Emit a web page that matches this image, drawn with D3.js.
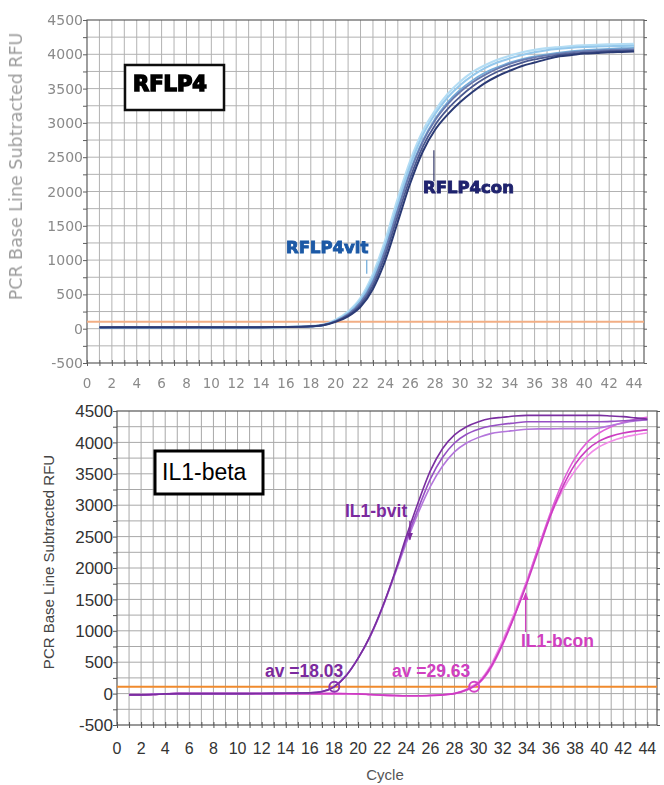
<!DOCTYPE html>
<html>
<head>
<meta charset="utf-8">
<title>RFLP4 and IL1-beta amplification</title>
<script src="https://cdn.jsdelivr.net/npm/d3@7"></script>
<style>
  body { margin: 0; background: #fff; }
</style>
</head>
<body>
<div id="chart"></div>
<script>
// ---- data ----
var cycles = [1,2,3,4,5,6,7,8,9,10,11,12,13,14,15,16,17,18,19,20,21,22,
              23,24,25,26,27,28,29,30,31,32,33,34,35,36,37,38,39,40,41,42,43,44];
var xTickLabels = [0,2,4,6,8,10,12,14,16,18,20,22,24,26,28,30,32,34,36,38,40,42,44];
var yTickLabels = [-500,0,500,1000,1500,2000,2500,3000,3500,4000,4500];

// top panel: RFLP4 (light = vit, dark = con)
var rflpVit1 = [15,18,20,20,18,17,18,20,20,19,18,18,20,22,22,25,30,38,60,130,250,450,800,1300,1900,2450,2880,3180,3420,3600,3740,3840,3920,3980,4030,4065,4090,4105,4120,4130,4138,4144,4148,4152];
var rflpVit2 = [12,15,18,18,17,16,17,18,19,18,17,18,19,20,21,24,28,35,55,120,230,420,750,1230,1820,2380,2820,3130,3370,3550,3690,3800,3880,3940,3990,4030,4060,4080,4095,4105,4112,4118,4122,4126];
var rflpVit3 = [10,12,15,16,15,15,16,17,18,17,16,17,18,19,20,22,26,32,50,110,210,390,700,1160,1740,2300,2740,3060,3300,3480,3620,3730,3810,3880,3930,3970,4000,4025,4045,4060,4070,4080,4088,4095];
var rflpCon1 = [20,22,22,21,20,20,21,22,22,21,20,20,21,22,23,25,28,34,50,100,180,320,580,1000,1560,2120,2580,2900,3120,3300,3450,3580,3680,3760,3830,3880,3930,3970,3990,4010,4020,4030,4035,4040];
var rflpCon2 = [18,20,20,20,19,19,20,21,21,20,19,19,20,21,22,24,27,33,52,105,195,350,630,1080,1650,2200,2650,2970,3200,3380,3530,3650,3745,3820,3880,3925,3960,3990,4010,4025,4035,4045,4050,4055];
var rflpCon3 = [16,18,19,19,18,18,19,20,20,19,18,18,19,20,21,23,27,34,55,112,210,380,680,1150,1730,2280,2720,3040,3270,3450,3590,3700,3790,3860,3915,3955,3985,4010,4030,4045,4055,4062,4068,4072];
var rflpThreshold = 100;

// bottom panel: IL1-beta
var ilVit1 = [-20,-20,-15,-5,0,0,0,0,0,0,0,2,3,5,8,12,30,105,280,560,920,1370,1900,2500,3050,3550,3900,4120,4250,4330,4380,4400,4420,4430,4430,4430,4430,4430,4430,4430,4420,4410,4390,4370];
var ilVit2 = [-18,-18,-12,-4,0,0,0,0,0,0,1,2,3,5,8,13,32,110,285,560,910,1360,1890,2450,2950,3420,3760,3990,4130,4210,4260,4290,4310,4330,4330,4330,4330,4330,4330,4330,4335,4345,4355,4360];
var ilVit3 = [-15,-15,-10,-3,0,0,0,0,0,0,1,2,4,6,9,14,34,112,290,565,905,1350,1870,2400,2880,3300,3620,3850,3990,4080,4140,4170,4190,4210,4215,4215,4220,4220,4220,4230,4270,4310,4340,4360];
var ilCon1 = [-20,-20,-15,-5,0,0,0,0,0,0,0,0,0,0,0,0,0,0,-2,-5,-15,-25,-30,-35,-35,-30,-20,0,60,170,420,800,1250,1750,2300,2850,3300,3650,3880,4020,4100,4150,4180,4200];
var ilCon2 = [-18,-18,-12,-4,0,0,0,0,0,0,0,0,0,0,0,0,0,0,-2,-6,-16,-26,-32,-36,-36,-30,-18,5,70,190,450,850,1300,1800,2350,2850,3250,3550,3780,3930,4020,4080,4120,4150];
var ilCon3 = [-15,-15,-10,-3,0,0,0,0,0,0,0,0,0,0,0,0,0,0,-1,-4,-14,-24,-30,-34,-34,-28,-20,0,55,160,400,780,1250,1780,2350,2900,3380,3750,4000,4150,4250,4320,4370,4400];
var ilThreshold = 110;
var ilCt = [18.03, 29.63];

// ---- drawing ----
var W = 664, H = 785;
var svg = d3.select("#chart").append("svg")
    .attr("width", W).attr("height", H)
    .style("font-family", "'Liberation Sans', Arial, sans-serif");

var defs = svg.append("defs");
defs.append("filter").attr("id", "soft")
    .attr("x", "-5%").attr("y", "-5%").attr("width", "110%").attr("height", "110%")
  .append("feGaussianBlur").attr("stdDeviation", 0.6);

function arrowMarker(id, color) {
  defs.append("marker").attr("id", id)
      .attr("viewBox", "0 0 10 10").attr("refX", 9).attr("refY", 5)
      .attr("markerWidth", 6).attr("markerHeight", 6).attr("orient", "auto")
    .append("path").attr("d", "M0,1 L10,5 L0,9 Z").attr("fill", color);
}
arrowMarker("arrVit", "#7b2a9e");
arrowMarker("arrCon", "#d040c0");

// one panel: grid, border, ticks, labels
function panel(g, box, st) {
  var x = d3.scaleLinear().domain([0, 44.8]).range([box.left, box.right]);
  var y = d3.scaleLinear().domain([-500, 4500]).range([box.bottom, box.top]);

  var grid = g.append("g");
  grid.selectAll("line.v").data(d3.range(1, 45)).enter().append("line")
      .attr("x1", d => x(d)).attr("x2", d => x(d))
      .attr("y1", box.top).attr("y2", box.bottom)
      .attr("stroke", st.grid).attr("stroke-width", 1);
  grid.selectAll("line.h").data(d3.range(-250, 4500, 250)).enter().append("line")
      .attr("y1", d => y(d)).attr("y2", d => y(d))
      .attr("x1", box.left).attr("x2", box.right)
      .attr("stroke", st.grid).attr("stroke-width", 1);

  g.append("rect")
      .attr("x", box.left).attr("y", box.top)
      .attr("width", box.right - box.left).attr("height", box.bottom - box.top)
      .attr("fill", "none").attr("stroke", st.border).attr("stroke-width", 1.2);

  // small ticks on left, right and bottom
  var minorY = d3.range(-500, 4501, 250);
  g.append("g").attr("transform", "translate(" + box.left + ",0)")
      .call(d3.axisLeft(y).tickValues(minorY).tickSize(4).tickFormat(""))
      .call(a => a.select(".domain").remove())
      .selectAll("line").attr("stroke", st.border);
  g.append("g").attr("transform", "translate(" + box.right + ",0)")
      .call(d3.axisRight(y).tickValues(minorY).tickSize(3).tickFormat(""))
      .call(a => a.select(".domain").remove())
      .selectAll("line").attr("stroke", st.border);
  g.append("g").attr("transform", "translate(0," + (box.bottom - 3) + ")")
      .call(d3.axisBottom(x).tickValues(d3.range(0, 45)).tickSize(6).tickFormat(""))
      .call(a => a.select(".domain").remove())
      .selectAll("line").attr("stroke", st.border);

  // tick labels
  g.append("g").selectAll("text").data(yTickLabels).enter().append("text")
      .attr("x", box.left - 4).attr("y", d => y(d))
      .attr("dy", "0.36em").attr("text-anchor", "end")
      .attr("font-size", st.yFont).attr("font-family", st.family)
      .attr("fill", st.text).text(d => d);
  g.append("g").selectAll("text").data(xTickLabels).enter().append("text")
      .attr("x", d => x(d)).attr("y", box.bottom + st.xOffset)
      .attr("text-anchor", "middle")
      .attr("font-size", st.xFont).attr("font-family", st.family)
      .attr("fill", st.text).text(d => d);

  // y title
  g.append("text")
      .attr("transform", "translate(" + st.titleX + "," + ((box.top + box.bottom) / 2 + st.titleShift) + ") rotate(-90)")
      .attr("text-anchor", "middle")
      .attr("font-size", st.titleFont).attr("font-family", st.family)
      .attr("fill", st.titleColor)
      .text("PCR Base Line Subtracted RFU");

  return { x: x, y: y };
}

function drawCurves(g, sc, series) {
  var line = d3.line()
      .x((d, i) => sc.x(cycles[i]))
      .y(d => sc.y(d))
      .curve(d3.curveMonotoneX);
  g.append("g").selectAll("path").data(series).enter().append("path")
      .attr("d", s => line(s.values))
      .attr("fill", "none")
      .attr("stroke", s => s.color)
      .attr("stroke-width", s => s.width);
}

// ---- top panel (RFLP4) ----
var gTop = svg.append("g").attr("filter", "url(#soft)");
var topBox = { left: 87, right: 644, top: 20, bottom: 363 };
var scTop = panel(gTop, topBox, {
  grid: "#b2b2b2", border: "#5e5e5e", text: "#8a8a8a",
  family: "'DejaVu Sans', sans-serif", yFont: 14, xFont: 13.5, xOffset: 25,
  titleX: 22, titleShift: -25, titleFont: 17.5, titleColor: "#9c9c9c"
});

gTop.append("line")
    .attr("x1", topBox.left).attr("x2", topBox.right)
    .attr("y1", scTop.y(rflpThreshold)).attr("y2", scTop.y(rflpThreshold))
    .attr("stroke", "#f2ae84").attr("stroke-width", 2);

drawCurves(gTop, scTop, [
  { values: rflpVit1, color: "#b4ddf4", width: 2.2 },
  { values: rflpVit2, color: "#94c8ec", width: 2 },
  { values: rflpVit3, color: "#74abd8", width: 1.8 },
  { values: rflpCon3, color: "#6a7bb0", width: 1.8 },
  { values: rflpCon2, color: "#4a5890", width: 1.8 },
  { values: rflpCon1, color: "#2c3a74", width: 2 }
]);

// title box
gTop.append("rect").attr("x", 125).attr("y", 65).attr("width", 99).attr("height", 45)
    .attr("fill", "#fff").attr("stroke", "#111").attr("stroke-width", 2.5);
gTop.append("text").attr("x", 133).attr("y", 91)
    .attr("font-family", "'DejaVu Sans', sans-serif").attr("font-weight", "bold")
    .attr("font-size", 21).attr("fill", "#000").attr("stroke", "#000").attr("stroke-width", 1.6)
    .text("RFLP4");

// curve labels
gTop.append("line")
    .attr("x1", scTop.x(27.9)).attr("x2", scTop.x(27.9))
    .attr("y1", scTop.y(2600)).attr("y2", scTop.y(2150))
    .attr("stroke", "#3a3f70").attr("stroke-width", 1.2);
gTop.append("text").attr("x", 423).attr("y", 193)
    .attr("font-family", "'DejaVu Sans', sans-serif").attr("font-weight", "bold")
    .attr("font-size", 16.5).attr("fill", "#20246e").attr("stroke", "#20246e").attr("stroke-width", 0.9)
    .text("RFLP4con");
gTop.append("line")
    .attr("x1", scTop.x(22.5)).attr("x2", scTop.x(22.5))
    .attr("y1", scTop.y(1000)).attr("y2", scTop.y(800))
    .attr("stroke", "#6aa8d8").attr("stroke-width", 1.2);
gTop.append("text").attr("x", 286).attr("y", 253)
    .attr("font-family", "'DejaVu Sans', sans-serif").attr("font-weight", "bold")
    .attr("font-size", 16.5).attr("fill", "#1d5aa6").attr("stroke", "#1d5aa6").attr("stroke-width", 0.9)
    .text("RFLP4vit");

// ---- bottom panel (IL1-beta) ----
var gBot = svg.append("g");
var botBox = { left: 117, right: 657, top: 411, bottom: 725 };
var scBot = panel(gBot, botBox, {
  grid: "#a8a8a8", border: "#555", text: "#333",
  family: "'Liberation Sans', Arial, sans-serif", yFont: 17, xFont: 16, xOffset: 29,
  titleX: 54, titleShift: -6, titleFont: 15, titleColor: "#444"
});

gBot.append("line")
    .attr("x1", botBox.left).attr("x2", botBox.right)
    .attr("y1", scBot.y(ilThreshold)).attr("y2", scBot.y(ilThreshold))
    .attr("stroke", "#f08a2c").attr("stroke-width", 2);

drawCurves(gBot, scBot, [
  { values: ilCon2, color: "#f28ae8", width: 1.6 },
  { values: ilCon3, color: "#e060d8", width: 1.6 },
  { values: ilCon1, color: "#cc3cc2", width: 1.6 },
  { values: ilVit3, color: "#b476dc", width: 1.6 },
  { values: ilVit2, color: "#9650c4", width: 1.6 },
  { values: ilVit1, color: "#7a2ea0", width: 1.6 }
]);

// Ct markers
var ctColors = ["#8a34b0", "#d244c6"];
gBot.append("g").selectAll("circle").data(ilCt).enter().append("circle")
    .attr("cx", d => scBot.x(d)).attr("cy", scBot.y(ilThreshold)).attr("r", 5)
    .attr("fill", "none").attr("stroke", (d, i) => ctColors[i]).attr("stroke-width", 2);
gBot.append("g").selectAll("text").data(ilCt).enter().append("text")
    .attr("x", (d, i) => i === 0 ? 265 : 392).attr("y", 677)
    .attr("font-size", 17.5).attr("font-weight", "bold")
    .attr("fill", (d, i) => i === 0 ? "#7b2a9e" : "#d040c0")
    .text(d => "av =" + d.toFixed(2));

// title box
gBot.append("rect").attr("x", 155).attr("y", 451).attr("width", 108).attr("height", 43)
    .attr("fill", "#fff").attr("stroke", "#000").attr("stroke-width", 3);
gBot.append("text").attr("x", 162).attr("y", 480)
    .attr("font-size", 23).attr("fill", "#000").text("IL1-beta");

// curve labels
gBot.append("text").attr("x", 345).attr("y", 517)
    .attr("font-size", 17.5).attr("font-weight", "bold").attr("fill", "#7b2a9e")
    .text("IL1-bvit");
gBot.append("line")
    .attr("x1", scBot.x(24.3)).attr("x2", scBot.x(24.3))
    .attr("y1", 521).attr("y2", scBot.y(2450))
    .attr("stroke", "#7b2a9e").attr("stroke-width", 1.3)
    .attr("marker-end", "url(#arrVit)");
gBot.append("text").attr("x", 521).attr("y", 647)
    .attr("font-size", 17.5).attr("font-weight", "bold").attr("fill", "#d040c0")
    .text("IL1-bcon");
gBot.append("line")
    .attr("x1", scBot.x(33.9)).attr("x2", scBot.x(33.9))
    .attr("y1", 632).attr("y2", scBot.y(1600))
    .attr("stroke", "#d040c0").attr("stroke-width", 1.3)
    .attr("marker-end", "url(#arrCon)");

// x title
gBot.append("text").attr("x", 385).attr("y", 780)
    .attr("text-anchor", "middle").attr("font-size", 15).attr("fill", "#555")
    .text("Cycle");
</script>
</body>
</html>
